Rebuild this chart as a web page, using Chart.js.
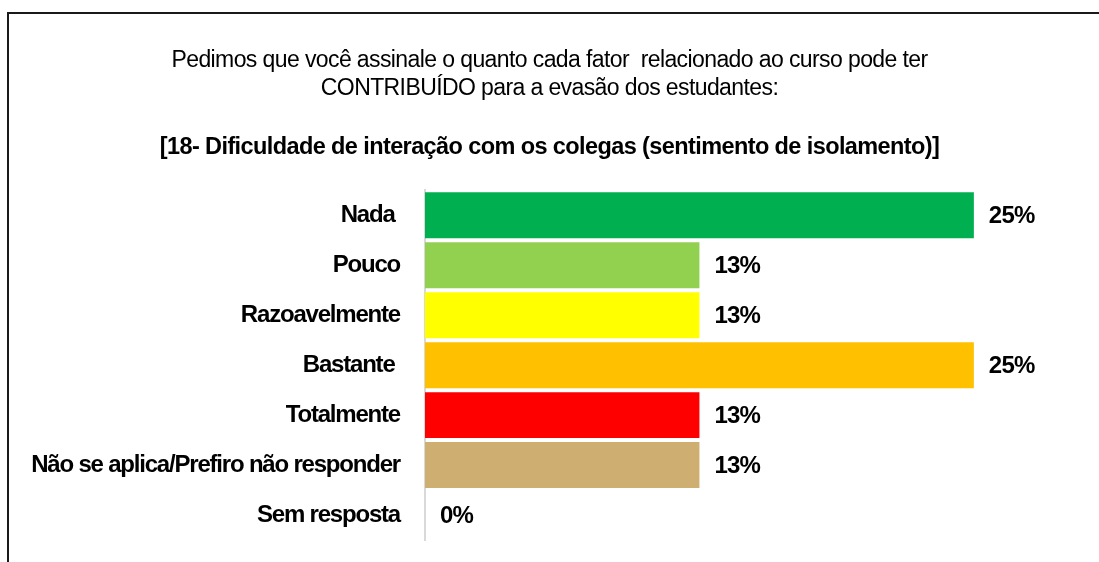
<!DOCTYPE html>
<html>
<head>
<meta charset="utf-8">
<script src="https://cdn.jsdelivr.net/npm/chart.js@4/dist/chart.umd.min.js"></script>
<style>
  html, body { margin:0; padding:0; background:#fff; }
  #wrap { position:relative; width:1099px; height:562px; overflow:hidden; }
  #frame { position:absolute; left:7px; top:12px; width:1200px; height:700px; border-top:2px solid #1a1a1a; border-left:2px solid #1a1a1a; }
  canvas { position:absolute; left:0; top:0; }
</style>
</head>
<body>
<div id="wrap">
  <div id="frame"></div>
  <canvas id="c" width="1099" height="562"></canvas>
</div>
<script>
const categories = ['Nada ', 'Pouco', 'Razoavelmente', 'Bastante ', 'Totalmente', 'Não se aplica/Prefiro não responder', 'Sem resposta'];
const values = [25, 12.5, 12.5, 25, 12.5, 12.5, 0];
const barColors = ['#00B050', '#92D050', '#FFFF00', '#FFC000', '#FF0000', '#CFAE71', '#BFBFBF'];
const titleLines = ['Pedimos que você assinale o quanto cada fator  relacionado ao curso pode ter', 'CONTRIBUÍDO para a evasão dos estudantes:'];
const subtitleText = '[18- Dificuldade de interação com os colegas (sentimento de isolamento)]';

const FONT = "'Liberation Sans', Arial, sans-serif";
const TITLE_SPACING = '-0.6px';
const LABEL_SPACING = '-1.2px';

const tightText = {
  id: 'tightText',
  beforeUpdate(chart) { chart.ctx.letterSpacing = TITLE_SPACING; },
  beforeLayout(chart) { chart.ctx.letterSpacing = TITLE_SPACING; },
  beforeDraw(chart) { chart.ctx.letterSpacing = TITLE_SPACING; },
  afterDatasetsDraw(chart) { chart.ctx.letterSpacing = LABEL_SPACING; }
};

const valueLabels = {
  id: 'valueLabels',
  afterDatasetsDraw(chart) {
    const ctx = chart.ctx;
    const meta = chart.getDatasetMeta(0);
    ctx.save();
    ctx.letterSpacing = '-0.8px';
    ctx.font = 'bold 24px ' + FONT;
    ctx.fillStyle = '#000';
    ctx.textAlign = 'left';
    ctx.textBaseline = 'middle';
    meta.data.forEach((el, i) => {
      ctx.fillText(Math.round(values[i]) + '%', el.x + 15, el.y + 1);
    });
    ctx.restore();
  }
};

new Chart(document.getElementById('c'), {
  type: 'bar',
  data: {
    labels: categories,
    datasets: [{
      data: values,
      backgroundColor: barColors,
      borderWidth: 0,
      barPercentage: 0.92,
      categoryPercentage: 1
    }]
  },
  options: {
    responsive: false,
    animation: false,
    indexAxis: 'y',
    layout: { padding: { left: 0, right: 0, top: 0, bottom: 22 } },
    scales: {
      x: { display: false, min: 0, max: 30.7 },
      y: {
        grid: { display: false, drawTicks: false },
        border: { display: true, color: '#d9d9d9', width: 2 },
        ticks: { z: 1, color: '#000', padding: 25, font: { family: FONT, size: 24, weight: 'bold' } },
        afterFit(s) { s.width = 425; s.paddingTop = 0; s.paddingBottom = 0; }
      }
    },
    plugins: {
      legend: { display: false },
      tooltip: { enabled: false },
      title: {
        display: true,
        text: titleLines,
        color: '#000',
        font: { family: FONT, size: 23, weight: 'normal', lineHeight: 1.22 },
        padding: { top: 47, bottom: 30 }
      },
      subtitle: {
        display: true,
        text: subtitleText,
        color: '#000',
        font: { family: FONT, size: 23.5, weight: 'bold', lineHeight: 1.2 },
        padding: { top: 0, bottom: 29 }
      }
    }
  },
  plugins: [tightText, valueLabels]
});
</script>
</body>
</html>
